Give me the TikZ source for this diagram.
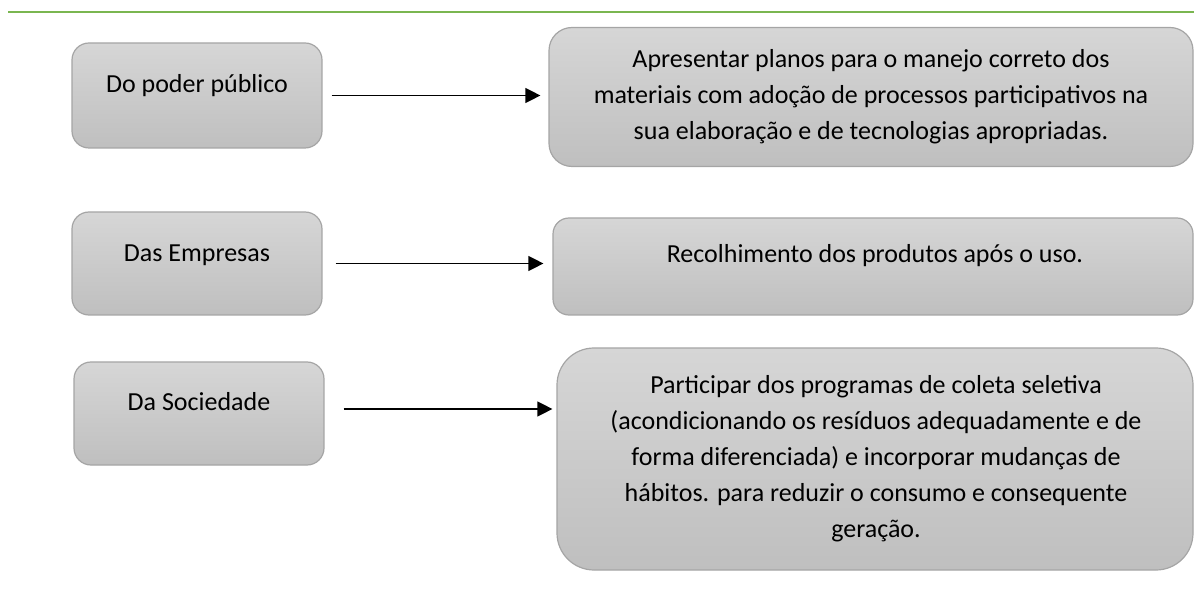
\documentclass[tikz,border=0pt]{standalone}
\usepackage{fontspec}
\setmainfont{Carlito}
\usetikzlibrary{arrows.meta}
\definecolor{linhaverde}{RGB}{122,182,80}
\definecolor{cinzatopo}{RGB}{214,214,214}
\definecolor{cinzabase}{RGB}{191,191,191}
\definecolor{cinzaborda}{RGB}{165,165,165}

\begin{document}
\begin{tikzpicture}[x=1pt, y=-1pt,
  caixa/.style={draw=cinzaborda, line width=1.2pt, top color=cinzatopo, bottom color=cinzabase, inner sep=0pt},
  texto/.style={align=center, font=\fontsize{26}{36}\selectfont},
  seta/.style={-{Triangle[length=15pt, width=15pt]}, line width=1.3pt}]
  \useasboundingbox (0, 0) rectangle (1194, 593);
  \draw[linhaverde, line width=2pt] (8, 12) -- (1194, 12);

  \node[caixa, rounded corners=17pt, minimum width=250pt, minimum height=105pt] (pub) at (197, 95.5) {};
  \node[caixa, rounded corners=17pt, minimum width=250pt, minimum height=103pt] (emp) at (197, 263.5) {};
  \node[caixa, rounded corners=17pt, minimum width=250pt, minimum height=103pt] (soc) at (199, 413.5) {};
  \node[caixa, rounded corners=23pt, minimum width=644pt, minimum height=139pt] (planos) at (871, 97) {};
  \node[caixa, rounded corners=16pt, minimum width=640pt, minimum height=97pt] (recolhe) at (873, 266.5) {};
  \node[caixa, rounded corners=37pt, minimum width=636pt, minimum height=222pt] (participa) at (875, 459) {};

  \node[texto] (pubtxt) at (197, 85.5) {Do poder público};
  \node[texto] (emptxt) at (197, 255) {Das Empresas};
  \node[texto] (soctxt) at (199, 402) {Da Sociedade};
  \node[texto] (planostxt) at (871, 97) {Apresentar planos para o manejo correto dos\\materiais com adoção de processos participativos na\\sua elaboração e de tecnologias apropriadas.};
  \node[texto] (recolhetxt) at (875, 256) {Recolhimento dos produtos após o uso.};
  \node[texto] (participatxt) at (876, 459) {Participar dos programas de coleta seletiva\\(acondicionando os resíduos adequadamente e de\\forma diferenciada) e incorporar mudanças de\\hábitos. para reduzir o consumo e consequente\\geração.};

  \draw[seta, shorten <=9pt, shorten >=8pt] (pub.east) -- (pub.east -| planos.west);
  \draw[seta, shorten <=13pt, shorten >=9pt] (emp.east) -- (emp.east -| recolhe.west);
  \draw[seta, shorten <=19pt, shorten >=4pt] ([yshift=4.5pt]soc.east) -- ([yshift=4.5pt]soc.east -| participa.west);
\end{tikzpicture}
\end{document}
